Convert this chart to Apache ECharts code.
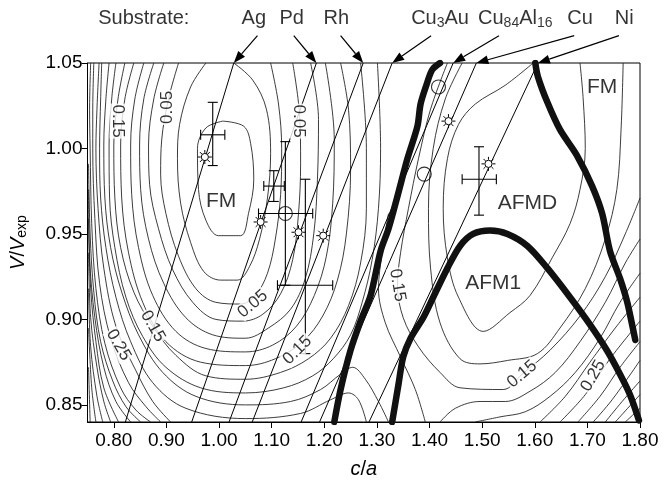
<!DOCTYPE html>
<html>
<head>
<meta charset="utf-8">
<script src="https://cdn.jsdelivr.net/npm/echarts@6/dist/echarts.min.js"></script>
<style>
  html, body { margin: 0; padding: 0; background: #fff; }
  #chart { width: 666px; height: 484px; }
</style>
</head>
<body>
<div id="chart"></div>
<script>
// axis ticks
const xTicks = [0.8, 0.9, 1.0, 1.1, 1.2, 1.3, 1.4, 1.5, 1.6, 1.7, 1.8];
const yTicks = [0.85, 0.9, 0.95, 1.0, 1.05];

// contour lines around the FM minimum on the left, [c/a, V/Vexp]
const fmContours = [
  [[1.007,1.016],[1.047,1.013],[1.060,1.003],[1.066,0.982],[1.056,0.962],[1.041,0.949],[0.999,0.949],[0.975,0.958],[0.961,0.976],[0.959,1.000],[0.975,1.012],[1.007,1.016]],
  [[0.975,1.050],[0.946,1.036],[0.925,1.014],[0.921,0.994],[0.927,0.968],[0.946,0.945],[0.971,0.928],[1.003,0.923],[1.035,0.923],[1.058,0.931],[1.077,0.947],[1.092,0.971],[1.098,0.997],[1.090,1.023],[1.064,1.040],[1.028,1.050]],
  [[0.923,1.050],[0.904,1.029],[0.891,1.005],[0.889,0.985],[0.899,0.962],[0.923,0.937],[0.956,0.918],[0.994,0.910],[1.041,0.909],[1.069,0.914],[1.092,0.927],[1.107,0.947],[1.117,0.973],[1.119,1.000],[1.113,1.026],[1.098,1.050]],
  [[0.895,1.050],[0.876,1.029],[0.866,1.002],[0.868,0.979],[0.885,0.953],[0.912,0.929],[0.950,0.910],[0.994,0.900],[1.045,0.899],[1.083,0.903],[1.117,0.915],[1.140,0.935],[1.151,0.962],[1.155,0.991],[1.153,1.020],[1.140,1.050]],
  [[0.876,1.050],[0.857,1.029],[0.849,1.002],[0.851,0.976],[0.866,0.947],[0.895,0.921],[0.937,0.901],[0.988,0.891],[1.050,0.889],[1.094,0.895],[1.136,0.906],[1.164,0.924],[1.180,0.950],[1.187,0.982],[1.189,1.017],[1.174,1.050]],
  [[0.857,1.050],[0.840,1.029],[0.832,1.002],[0.834,0.973],[0.847,0.942],[0.874,0.914],[0.918,0.893],[0.975,0.883],[1.050,0.881],[1.102,0.885],[1.147,0.896],[1.181,0.914],[1.204,0.937],[1.216,0.968],[1.219,1.005],[1.202,1.050]],
  [[0.838,1.050],[0.821,1.029],[0.813,1.002],[0.815,0.971],[0.828,0.939],[0.855,0.910],[0.899,0.887],[0.965,0.875],[1.050,0.873],[1.107,0.877],[1.159,0.887],[1.197,0.902],[1.225,0.923],[1.242,0.950],[1.250,0.988],[1.246,1.023],[1.231,1.050]],
  [[0.821,1.050],[0.808,1.029],[0.800,1.002],[0.802,0.971],[0.813,0.942],[0.838,0.916],[0.874,0.896],[0.918,0.879],[0.975,0.867],[1.050,0.865],[1.117,0.869],[1.170,0.877],[1.212,0.889],[1.246,0.908],[1.269,0.933],[1.280,0.965],[1.280,1.000],[1.269,1.050]],
  [[0.804,1.050],[0.796,1.029],[0.791,1.002],[0.792,0.971],[0.802,0.942],[0.823,0.913],[0.855,0.890],[0.899,0.872],[0.965,0.860],[1.050,0.857],[1.123,0.860],[1.178,0.867],[1.217,0.877],[1.250,0.891],[1.272,0.910],[1.291,0.935],[1.303,0.965],[1.307,1.000],[1.301,1.050]],
  [[0.791,1.050],[0.785,1.029],[0.781,1.002],[0.783,0.971],[0.794,0.942],[0.815,0.916],[0.847,0.891],[0.893,0.869],[0.956,0.855],[1.050,0.850],[1.136,0.852],[1.193,0.859],[1.231,0.868],[1.254,0.872],[1.278,0.865],[1.303,0.852],[1.322,0.840]],
  [[0.777,1.050],[0.775,1.029],[0.773,1.000],[0.775,0.971],[0.785,0.942],[0.804,0.913],[0.832,0.887],[0.874,0.863],[0.937,0.848],[1.050,0.842],[1.155,0.845],[1.212,0.853],[1.246,0.857],[1.265,0.853],[1.280,0.840]],
  [[0.772,1.050],[0.768,1.023],[0.766,1.000],[0.770,0.965],[0.781,0.930],[0.804,0.896],[0.842,0.870],[0.874,0.852],[0.908,0.840]],
  [[0.762,1.050],[0.760,1.023],[0.760,1.000],[0.764,0.959],[0.773,0.921],[0.794,0.889],[0.828,0.863],[0.861,0.849],[0.889,0.840]],
  [[0.756,1.050],[0.754,1.023],[0.755,1.000],[0.758,0.956],[0.766,0.918],[0.783,0.886],[0.813,0.860],[0.842,0.847],[0.870,0.840]],
  [[0.752,0.991],[0.755,0.950],[0.762,0.916],[0.775,0.887],[0.798,0.864],[0.823,0.849],[0.851,0.840]],
  [[0.752,0.976],[0.754,0.936],[0.764,0.901],[0.781,0.872],[0.804,0.852],[0.832,0.840]],
  [[0.752,0.959],[0.756,0.918],[0.766,0.887],[0.781,0.860],[0.809,0.840]],
  [[0.752,0.939],[0.756,0.901],[0.768,0.872],[0.781,0.852],[0.794,0.840]],
  [[0.752,0.918],[0.756,0.884],[0.768,0.855],[0.779,0.840]],
  [[0.752,0.895],[0.758,0.860],[0.766,0.840]],
  [[0.752,0.872],[0.755,0.840]]
];

// contour lines around the AFMD / AFM1 basin and the right-hand corner
const afmContours = [
  [[1.597,1.050],[1.544,1.037],[1.487,1.026],[1.455,1.014],[1.434,0.994],[1.426,0.965],[1.434,0.936],[1.455,0.913],[1.502,0.893],[1.553,0.904],[1.591,0.914],[1.633,0.936],[1.667,0.956],[1.686,0.976],[1.696,1.000],[1.692,1.029],[1.686,1.050]],
  [[1.462,1.050],[1.430,1.029],[1.407,1.000],[1.398,0.965],[1.402,0.930],[1.420,0.898],[1.458,0.877],[1.496,0.874],[1.548,0.876],[1.605,0.880],[1.648,0.895],[1.696,0.918],[1.734,0.947],[1.756,0.976],[1.764,1.011],[1.768,1.050]],
  [[1.434,1.050],[1.402,1.023],[1.379,0.994],[1.360,0.965],[1.345,0.939],[1.339,0.920],[1.350,0.901],[1.379,0.884],[1.420,0.869],[1.458,0.860],[1.540,0.859],[1.576,0.868],[1.629,0.882],[1.686,0.902],[1.734,0.925],[1.772,0.950],[1.800,0.971]],
  [[1.322,0.962],[1.310,0.939],[1.303,0.918],[1.316,0.898],[1.345,0.878],[1.373,0.859],[1.392,0.840]],
  [[1.420,0.840],[1.449,0.848],[1.496,0.852],[1.544,0.852],[1.591,0.858],[1.639,0.869],[1.686,0.887],[1.734,0.910],[1.772,0.933],[1.800,0.947]],
  [[1.487,0.840],[1.534,0.843],[1.582,0.846],[1.629,0.855],[1.677,0.869],[1.724,0.889],[1.762,0.910],[1.800,0.927]],
  [[1.610,0.840],[1.658,0.855],[1.705,0.875],[1.753,0.895],[1.800,0.913]],
  [[1.648,0.840],[1.696,0.856],[1.743,0.877],[1.800,0.899]],
  [[1.682,0.840],[1.724,0.855],[1.762,0.872],[1.800,0.887]],
  [[1.711,0.840],[1.747,0.853],[1.800,0.876]],
  [[1.734,0.840],[1.766,0.852],[1.800,0.864]],
  [[1.753,0.840],[1.800,0.856]],
  [[1.772,0.840],[1.800,0.848]]
];

// thick phase boundaries
const boundaryFmAfmd = [[1.420,1.050],[1.405,1.046],[1.394,1.037],[1.383,1.026],[1.377,1.013],[1.358,0.994],[1.339,0.972],[1.322,0.953],[1.307,0.940],[1.288,0.914],[1.269,0.899],[1.250,0.882],[1.231,0.859],[1.219,0.840]];
const boundaryAfm1 = [[1.329,0.840],[1.341,0.862],[1.350,0.878],[1.364,0.889],[1.388,0.901],[1.407,0.913],[1.434,0.930],[1.458,0.943],[1.483,0.950],[1.515,0.952],[1.548,0.950],[1.586,0.943],[1.624,0.930],[1.667,0.913],[1.705,0.897],[1.737,0.882],[1.762,0.868],[1.781,0.856],[1.798,0.841]];
const boundaryNi = [[1.601,1.050],[1.606,1.042],[1.624,1.027],[1.648,1.011],[1.680,0.996],[1.709,0.978],[1.728,0.962],[1.743,0.940],[1.762,0.924],[1.775,0.911],[1.785,0.897],[1.791,0.888]];

// substrate lines: c/a where they meet the top and the bottom of the frame
const substrateNames = ['Ag', 'Pd', 'Rh', 'Cu{s|3}Au', 'Cu{s|84}Al{s|16}', 'Cu', 'Ni'];
const substrateTopC = [1.028, 1.185, 1.274, 1.329, 1.445, 1.489, 1.606];
const substrateBottomC = [0.822, 0.948, 1.019, 1.063, 1.156, 1.191, 1.285];
const substrateLabelC = [1.066, 1.138, 1.223, 1.420, 1.563, 1.686, 1.770];
const arrowStartC = [1.073, 1.142, 1.231, 1.403, 1.532, 1.675, 1.760];
const headerV = 1.076;
const arrowStartV = 1.066;

// experiments: [c/a, V/Vexp, c low, c high, V low, V high]
const errorBars = [
  [0.988, 1.008, 0.965, 1.011, 0.990, 1.027],
  [1.104, 0.978, 1.085, 1.124, 0.969, 0.987],
  [1.126, 0.962, 1.075, 1.178, 0.920, 1.004],
  [1.164, 0.920, 1.111, 1.216, 0.880, 0.982],
  [1.494, 0.982, 1.462, 1.527, 0.961, 1.001]
];
const circlePoints = [[1.126, 0.962], [1.417, 1.036], [1.390, 0.985]];
const starPoints = [[0.973, 0.995], [1.079, 0.957], [1.151, 0.951], [1.198, 0.949], [1.436, 1.016], [1.512, 0.991]];

// phase names
const phaseNames = ['FM', 'AFMD', 'FM', 'AFM1'];
const phaseC = [1.004, 1.586, 1.728, 1.521];
const phaseV = [0.969, 0.968, 1.036, 0.921];

// contour value labels
const contourText = ['0.15', '0.05', '0.05', '0.25', '0.15', '0.05', '0.15', '0.15', '0.15', '0.25'];
const contourC = [0.808, 0.901, 1.151, 0.809, 0.874, 1.064, 1.149, 1.339, 1.576, 1.711];
const contourV = [1.016, 1.024, 1.016, 0.885, 0.896, 0.909, 0.882, 0.920, 0.868, 0.867];
const contourAngle = [-90, 90, -90, -60, -60, 40, 45, -80, 40, 60];

const FONT = '"Liberation Sans", Arial, Helvetica, sans-serif';
const chart = echarts.init(document.getElementById('chart'), null, { renderer: 'canvas' });

const series = [];
fmContours.concat(afmContours).forEach(pts => {
  series.push({
    type: 'line', data: pts, symbol: 'none', smooth: 0.35, silent: true, z: 2,
    lineStyle: { color: '#1a1a1a', width: 0.85 }
  });
});
substrateTopC.forEach((c, i) => {
  series.push({
    type: 'line', data: [[substrateBottomC[i], 0.84], [c, 1.05]], symbol: 'none', silent: true, z: 3,
    lineStyle: { color: '#000', width: 1 }
  });
});
[boundaryFmAfmd, boundaryAfm1, boundaryNi].forEach(pts => {
  series.push({
    type: 'line', data: pts, symbol: 'none', smooth: 0.3, silent: true, z: 4,
    lineStyle: { color: '#111', width: 6.5, cap: 'round', join: 'round' }
  });
});

// error bars
series.push({
  type: 'custom', z: 5, silent: true, data: errorBars, encode: { x: 0, y: 1 },
  renderItem: (params, api) => {
    const c = api.value(0), v = api.value(1);
    const L = api.coord([api.value(2), v]), R = api.coord([api.value(3), v]);
    const B = api.coord([c, api.value(4)]), T = api.coord([c, api.value(5)]);
    const cap = 5;
    const st = { stroke: '#000', lineWidth: 1.1 };
    const seg = (x1, y1, x2, y2) => ({ type: 'line', shape: { x1, y1, x2, y2 }, style: st });
    return {
      type: 'group', children: [
        seg(L[0], L[1], R[0], R[1]), seg(L[0], L[1] - cap, L[0], L[1] + cap), seg(R[0], R[1] - cap, R[0], R[1] + cap),
        seg(B[0], B[1], T[0], T[1]), seg(B[0] - cap, B[1], B[0] + cap, B[1]), seg(T[0] - cap, T[1], T[0] + cap, T[1])
      ]
    };
  }
});
series.push({
  type: 'scatter', data: circlePoints, symbol: 'circle', symbolSize: 14, z: 6, silent: true,
  itemStyle: { color: 'rgba(0,0,0,0)', borderColor: '#000', borderWidth: 1.1 }
});
// sun-shaped markers: drawn as a small open circle with eight rays
series.push({
  type: 'custom', z: 6, silent: true, data: starPoints, encode: { x: 0, y: 1 },
  renderItem: (params, api) => {
    const p = api.coord([api.value(0), api.value(1)]);
    const kids = [{ type: 'circle', shape: { cx: p[0], cy: p[1], r: 3.6 }, style: { fill: '#fff', stroke: '#000', lineWidth: 1 } }];
    for (let k = 0; k < 8; k++) {
      const a = k * Math.PI / 4;
      kids.push({
        type: 'line',
        shape: { x1: p[0] + 4.2 * Math.cos(a), y1: p[1] + 4.2 * Math.sin(a), x2: p[0] + 7 * Math.cos(a), y2: p[1] + 7 * Math.sin(a) },
        style: { stroke: '#000', lineWidth: 1 }
      });
    }
    return { type: 'group', children: kids };
  }
});

// phase labels
series.push({
  type: 'scatter', symbolSize: 0, z: 7, silent: true,
  data: phaseNames.map((n, i) => ({ value: [phaseC[i], phaseV[i]], label: { formatter: n } })),
  label: { show: true, position: 'inside', color: '#000', fontSize: 21, fontFamily: FONT }
});
// contour labels
series.push({
  type: 'scatter', symbolSize: 0, z: 7, silent: true,
  data: contourText.map((t, i) => ({ value: [contourC[i], contourV[i]], label: { formatter: t, rotate: contourAngle[i] } })),
  label: { show: true, position: 'inside', color: '#000', fontSize: 17, fontFamily: FONT, backgroundColor: '#fff', padding: [0, 1] }
});
// header: substrate labels above the frame
series.push({
  type: 'scatter', symbolSize: 0, z: 7, silent: true, clip: false,
  data: [{ value: [0.857, headerV], label: { formatter: 'Substrate:' } }].concat(
    substrateNames.map((n, i) => ({ value: [substrateLabelC[i], headerV], label: { formatter: n } }))),
  label: {
    show: true, position: 'inside', color: '#000', fontSize: 20, fontFamily: FONT,
    rich: { s: { fontSize: 14, fontFamily: FONT, color: '#000', padding: [9, 0, 0, 0] } }
  }
});
// arrows from the labels to the substrate lines
series.push({
  type: 'custom', z: 7, silent: true, clip: false,
  data: substrateTopC.map((c, i) => [arrowStartC[i], arrowStartV, c, 1.05]),
  encode: { x: 0, y: 1 },
  renderItem: (params, api) => {
    const p1 = api.coord([api.value(0), api.value(1)]);
    const p2 = api.coord([api.value(2), api.value(3)]);
    const dx = p2[0] - p1[0], dy = p2[1] - p1[1];
    const len = Math.sqrt(dx * dx + dy * dy);
    const ux = dx / len, uy = dy / len;
    const hl = 12, hw = 4.5;
    const bx = p2[0] - ux * hl, by = p2[1] - uy * hl;
    return {
      type: 'group', children: [
        { type: 'line', shape: { x1: p1[0], y1: p1[1], x2: bx, y2: by }, style: { stroke: '#000', lineWidth: 1.2 } },
        { type: 'polygon', shape: { points: [p2, [bx - uy * hw, by + ux * hw], [bx + uy * hw, by - ux * hw]] }, style: { fill: '#000' } }
      ]
    };
  }
});

chart.setOption({
  animation: false,
  backgroundColor: '#fff',
  grid: { left: 87, right: 26, top: 63, bottom: 59, show: true, borderColor: '#000', borderWidth: 1, backgroundColor: 'transparent' },
  xAxis: {
    type: 'value', min: 0.75, max: 1.8,
    axisLine: { show: true, lineStyle: { color: '#000', width: 1 } },
    axisTick: { show: true, customValues: xTicks, length: 6, lineStyle: { color: '#000' } },
    axisLabel: { customValues: xTicks, formatter: v => v.toFixed(2), color: '#000', fontSize: 19, fontFamily: FONT, margin: 9 },
    splitLine: { show: false },
    name: '{i|c}/{i|a}', nameLocation: 'middle', nameGap: 37,
    nameTextStyle: { fontSize: 20, fontFamily: FONT, color: '#000', rich: { i: { fontStyle: 'italic', fontSize: 20, fontFamily: FONT, color: '#000' } } }
  },
  yAxis: {
    type: 'value', min: 0.84, max: 1.05,
    axisLine: { show: true, lineStyle: { color: '#000', width: 1 } },
    axisTick: { show: true, customValues: yTicks, length: 6, lineStyle: { color: '#000' } },
    axisLabel: { customValues: yTicks, formatter: v => v.toFixed(2), color: '#000', fontSize: 19, fontFamily: FONT, margin: 5 },
    splitLine: { show: false },
    name: '{i|V}/{i|V}{s|exp}', nameLocation: 'middle', nameGap: 58, nameRotate: 90,
    nameTextStyle: {
      fontSize: 20, fontFamily: FONT, color: '#000',
      rich: {
        i: { fontStyle: 'italic', fontSize: 20, fontFamily: FONT, color: '#000' },
        s: { fontSize: 14, fontFamily: FONT, color: '#000', padding: [9, 0, 0, 0] }
      }
    }
  },
  series: series
});
</script>
</body>
</html>
